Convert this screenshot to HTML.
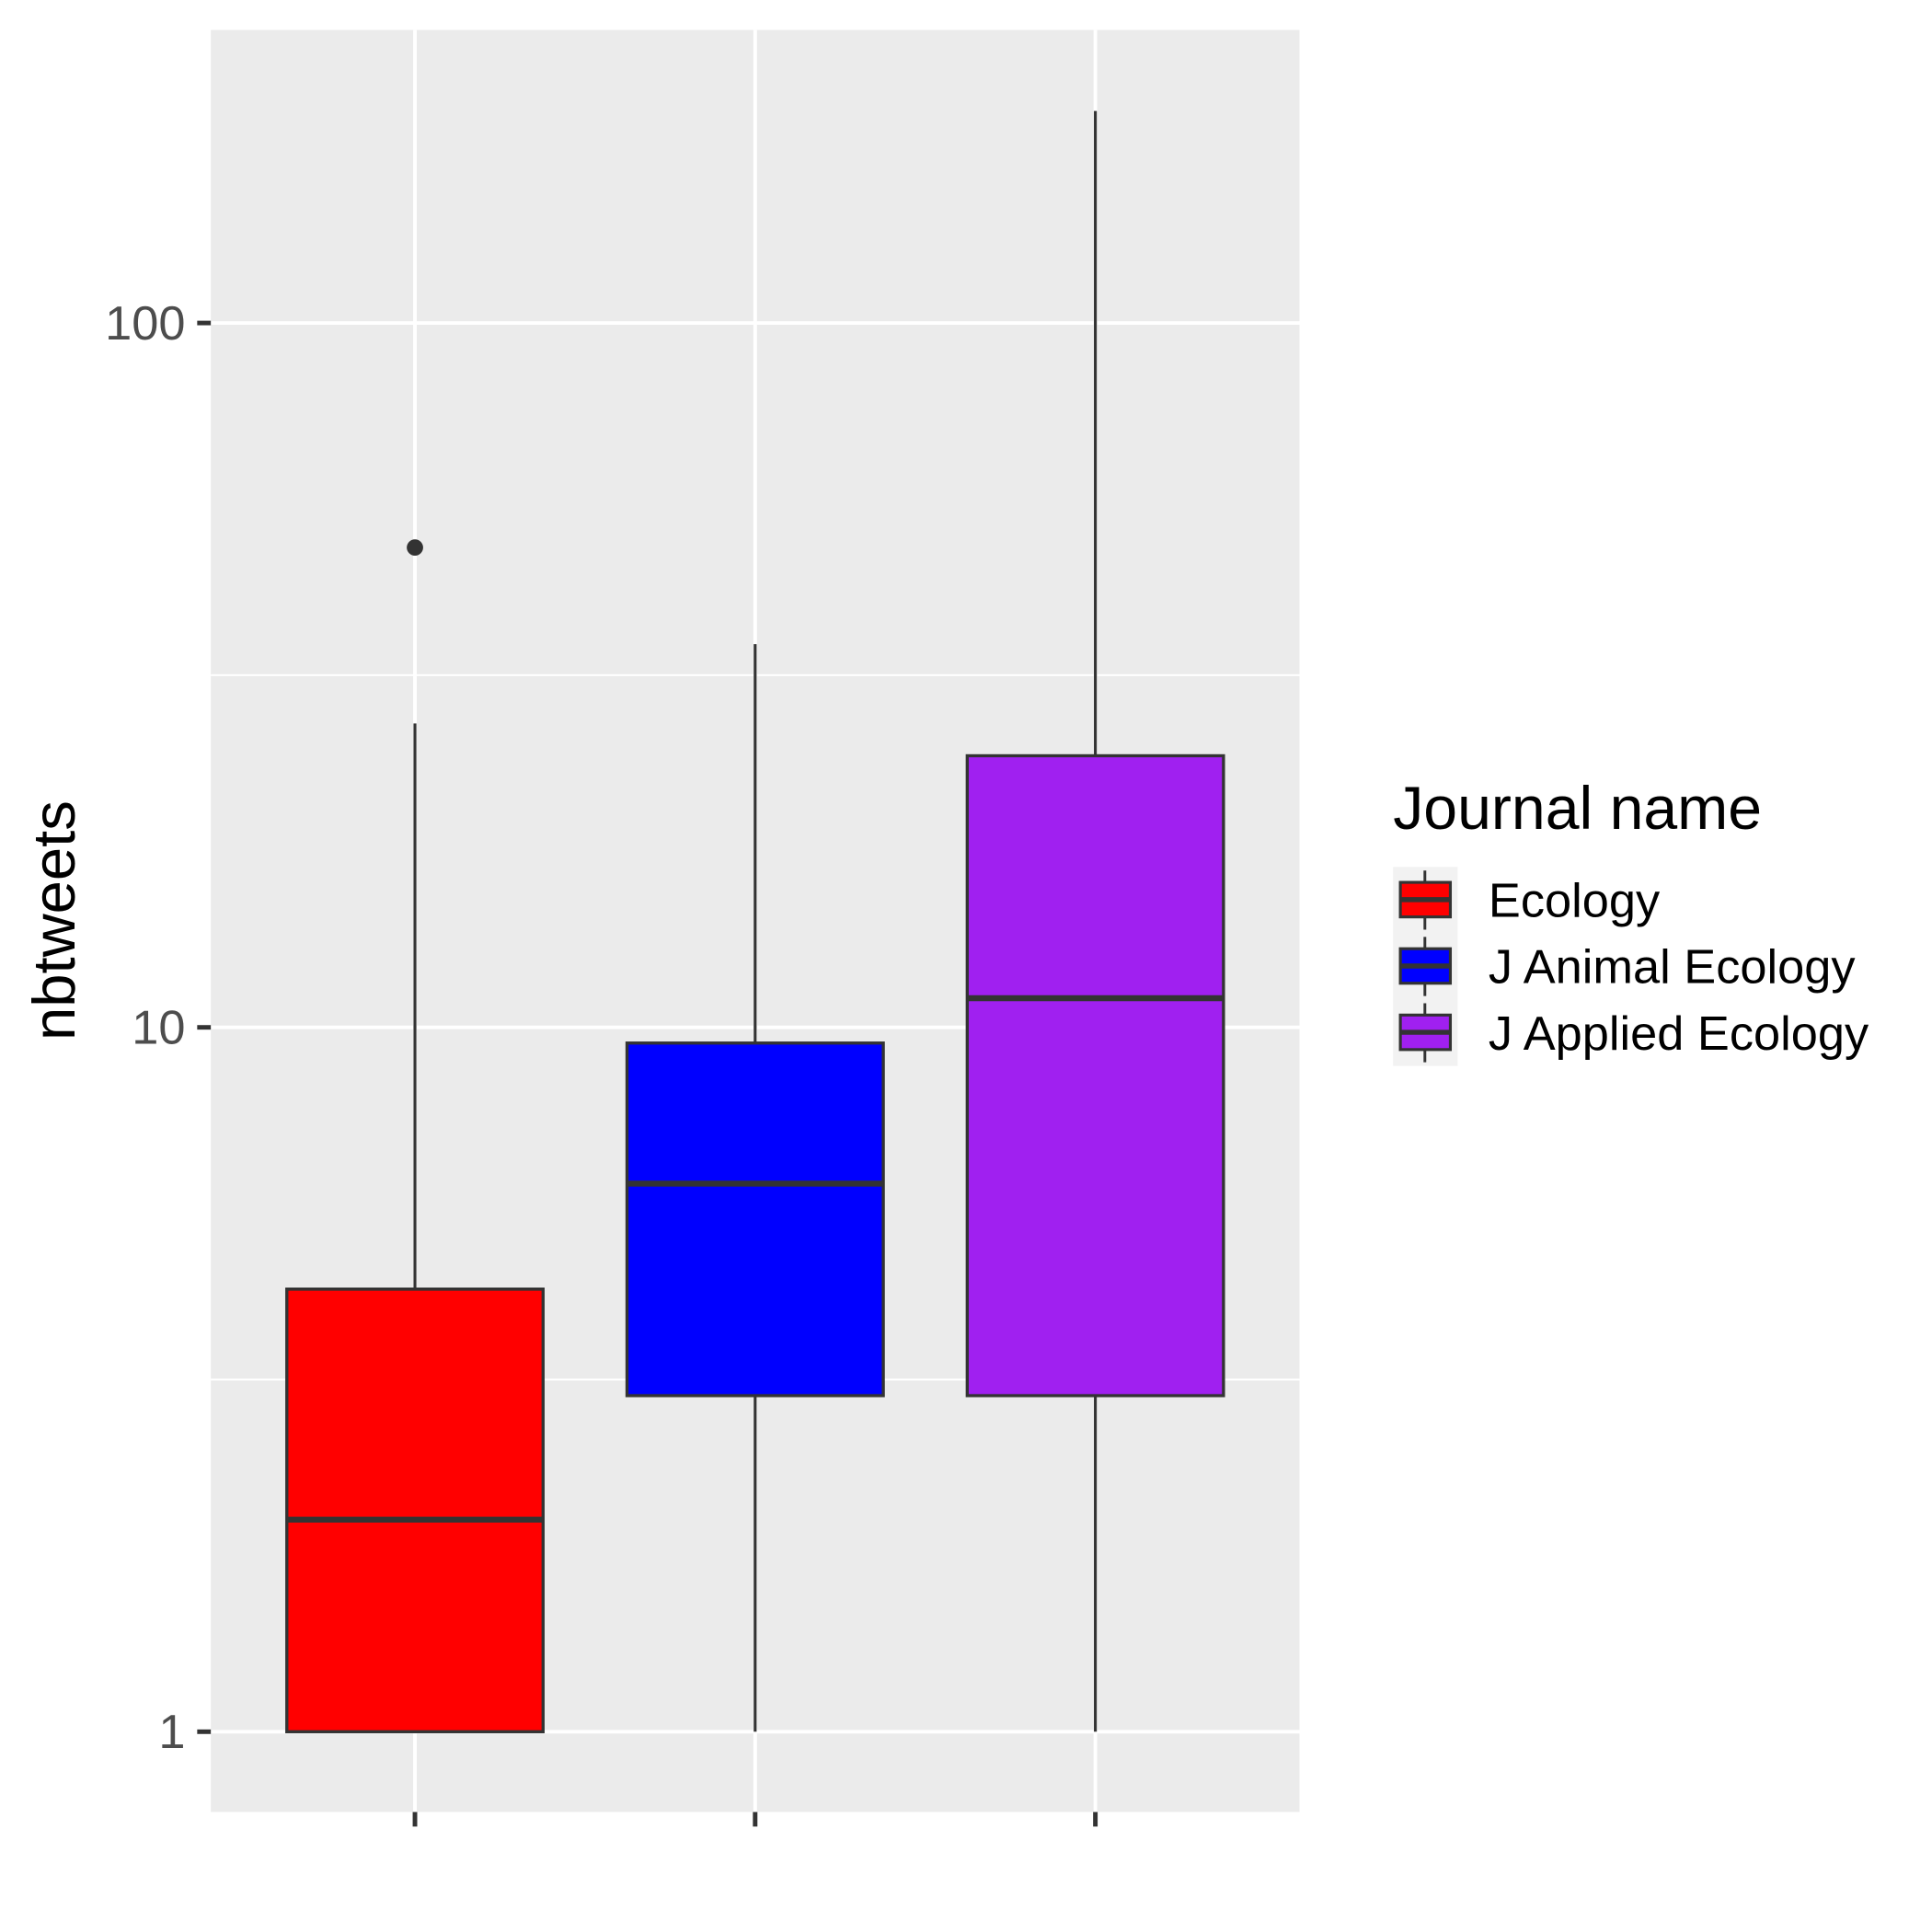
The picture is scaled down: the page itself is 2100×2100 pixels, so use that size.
<!DOCTYPE html>
<html><head><meta charset="utf-8"><style>
html,body{margin:0;padding:0;background:#fff;}
svg{display:block;font-family:"Liberation Sans",Arial,sans-serif;}
</style></head><body>
<svg id="chart" width="2100" height="2100" viewBox="0 0 2100 2100">
<g transform="scale(0.98775)">
<rect x="232" y="33" width="1198" height="1961" fill="#ebebeb"/>
<g id="grid"></g>
<g id="boxes"></g>
<g id="axes"></g>
<text transform="translate(82,1013) rotate(-90)" text-anchor="middle" font-size="66" fill="#000">nbtweets</text>
<g>
<text x="1533" y="912" font-size="67" fill="#000">Journal name</text>
<g id="legend"></g>
</g>
</g>
</svg>
<script>
const categories = ["Ecology","J Animal Ecology","J Applied Ecology"];
const colors = ["#ff0000","#0000ff","#a020f0"];
const lowerWhisker = [1,1,1];
const q1 = [1,3,3];
const medians = [2,6,11];
const q3 = [4.25,9.5,24.3];
const upperWhisker = [27,35,200];
const outliers = [[48],[],[]];
const yTickValues = [1,10,100];
const yTickLabels = ["1","10","100"];
const yMinorValues = [Math.sqrt(10),Math.sqrt(1000)];

const NS="http://www.w3.org/2000/svg";
const yTop=33,yBot=1994,logMin=-0.114,logMax=2.416;
function y(v){return yBot-(Math.log10(v)-logMin)/(logMax-logMin)*(yBot-yTop);}
const xL=232,xR=1430;
function xc(i){const lo=0.4,hi=categories.length+0.6;return xL+((i+1)-lo)/(hi-lo)*(xR-xL);}
function el(tag,attrs,parent){const e=document.createElementNS(NS,tag);for(const k in attrs)e.setAttribute(k,attrs[k]);parent.appendChild(e);return e;}
const grid=document.getElementById('grid'),boxes=document.getElementById('boxes'),axes=document.getElementById('axes'),leg=document.getElementById('legend');
yMinorValues.forEach(v=>{const l=el('line',{x1:xL,x2:xR,y1:y(v),y2:y(v),stroke:'#fff','stroke-width':2},grid);

});
yTickValues.forEach((v,i)=>{const l=el('line',{x1:xL,x2:xR,y1:y(v),y2:y(v),stroke:'#fff','stroke-width':4},grid);


const t=el('line',{x1:217,x2:232,y1:y(v),y2:y(v),stroke:'#333','stroke-width':5},axes);


const tx=el('text',{x:204,y:y(v)+18,'text-anchor':'end','font-size':53,fill:'#4d4d4d'},axes);tx.textContent=yTickLabels[i];

});
categories.forEach((c,i)=>{const cx=xc(i);
const g=el('line',{x1:cx,x2:cx,y1:yTop,y2:yBot,stroke:'#fff','stroke-width':4},grid);


const t=el('line',{x1:cx,x2:cx,y1:1994,y2:2010,stroke:'#333','stroke-width':5},axes);


const hw=141;
const grp=el('g',{},boxes);


el('line',{x1:cx,x2:cx,y1:y(upperWhisker[i]),y2:y(q3[i]),stroke:'#333','stroke-width':3.2},grp);
el('line',{x1:cx,x2:cx,y1:y(q1[i]),y2:y(lowerWhisker[i]),stroke:'#333','stroke-width':3.2},grp);
el('rect',{x:cx-hw,y:y(q3[i]),width:2*hw,height:y(q1[i])-y(q3[i]),fill:colors[i],stroke:'#333','stroke-width':3.4},grp);
el('line',{x1:cx-hw,x2:cx+hw,y1:y(medians[i]),y2:y(medians[i]),stroke:'#333','stroke-width':6.5},grp);
outliers[i].forEach(o=>{const p=el('circle',{cx:cx,cy:y(o),r:9,fill:'#333'},grp);

});
const ky=954+i*73;
const kg=el('g',{},leg);


el('rect',{x:1533,y:ky,width:71,height:73,fill:'#f2f2f2'},kg);
el('line',{x1:1568,x2:1568,y1:ky+4,y2:ky+69,stroke:'#333','stroke-width':3},kg);
el('rect',{x:1541,y:ky+17,width:55,height:38,fill:colors[i],stroke:'#333','stroke-width':3.2},kg);
el('line',{x1:1541,x2:1596,y1:ky+36,y2:ky+36,stroke:'#333','stroke-width':5.5},kg);
const lt=el('text',{x:1638,y:ky+55,'font-size':53,fill:'#000'},kg);lt.textContent=c;
});
</script>
</body></html>
